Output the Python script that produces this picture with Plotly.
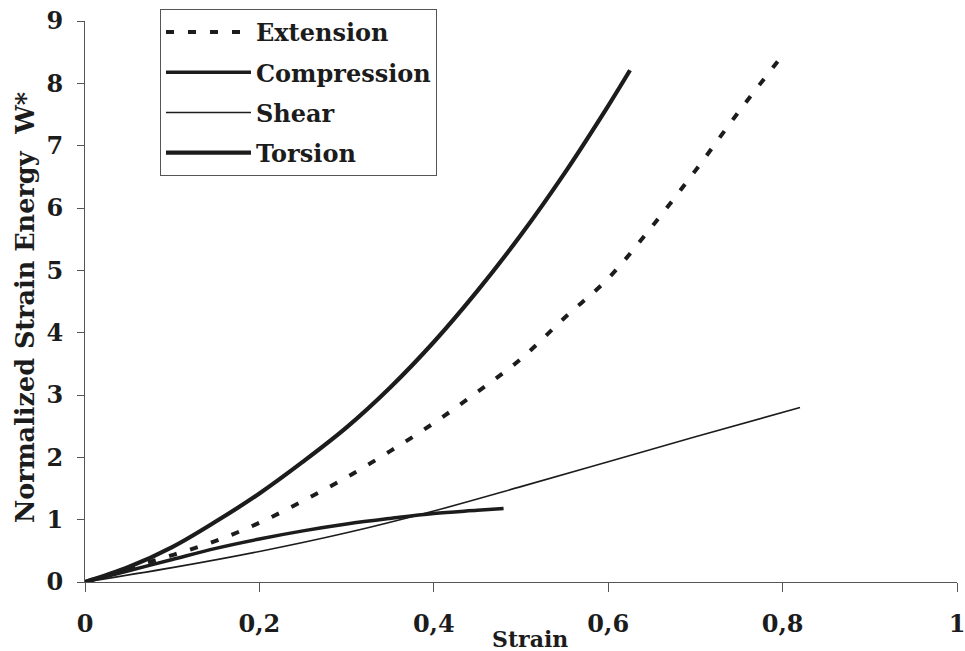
import plotly.graph_objects as go

# Data
ext_x = [0, 0.05, 0.1, 0.15, 0.2, 0.25, 0.3, 0.35, 0.4, 0.45, 0.5, 0.55, 0.6, 0.65, 0.7, 0.75, 0.8]
ext_y = [0, 0.22, 0.43, 0.66, 0.95, 1.30, 1.68, 2.10, 2.55, 3.05, 3.58, 4.24, 4.87, 5.70, 6.60, 7.55, 8.45]

comp_x = [0, 0.05, 0.1, 0.15, 0.2, 0.25, 0.3, 0.35, 0.4, 0.45, 0.48]
comp_y = [0, 0.18, 0.36, 0.54, 0.69, 0.82, 0.93, 1.02, 1.10, 1.15, 1.18]

shear_x = [0, 0.1, 0.2, 0.3, 0.4, 0.5, 0.6, 0.7, 0.82]
shear_y = [0, 0.23, 0.49, 0.79, 1.14, 1.53, 1.93, 2.33, 2.80]

tors_x = [0, 0.05, 0.1, 0.15, 0.2, 0.25, 0.3, 0.35, 0.4, 0.45, 0.5, 0.55, 0.6, 0.625]
tors_y = [0, 0.24, 0.56, 0.97, 1.42, 1.93, 2.48, 3.12, 3.85, 4.67, 5.57, 6.56, 7.64, 8.21]

x_ticks = [0, 0.2, 0.4, 0.6, 0.8, 1]
y_ticks = [0, 1, 2, 3, 4, 5, 6, 7, 8, 9]

FONT = "DejaVu Serif"
INK = "#1c1c1c"

fig = go.Figure()
fig.add_trace(go.Scatter(x=ext_x, y=ext_y, mode="lines", name="Extension", legendgroup="a",
                         line=dict(color=INK, width=4, dash="8px,14px", shape="spline")))
fig.add_trace(go.Scatter(x=comp_x, y=comp_y, mode="lines", name="Compression", legendgroup="b",
                         line=dict(color=INK, width=3.5, shape="spline")))
fig.add_trace(go.Scatter(x=shear_x, y=shear_y, mode="lines", name="Shear", legendgroup="c",
                         line=dict(color=INK, width=1.6, shape="spline")))
fig.add_trace(go.Scatter(x=tors_x, y=tors_y, mode="lines", name="Torsion", legendgroup="d",
                         line=dict(color=INK, width=4.2, shape="spline")))

axis_common = dict(
    showgrid=False, zeroline=False, showline=True, linecolor="#555555", linewidth=1,
    ticks="outside", tickcolor="#555555", tickwidth=1, automargin=False,
    ticklabeloverflow="allow",
    tickfont=dict(family=FONT, size=24, color=INK, weight="bold"),
)

# Paper area: top margin 9 px (legend top), bottom 69 px -> height 573; plot top at 21 px
fig.update_xaxes(range=[0, 1], tickvals=x_ticks, ticklen=9, ticklabelstandoff=11, **axis_common)
fig.update_yaxes(range=[0, 9], tickvals=y_ticks, ticklen=7, ticklabelstandoff=9,
                 domain=[0, 561 / 573], **axis_common)

fig.add_annotation(text="<b>Strain</b>", x=0.51, xref="x", y=-0.0995, yref="paper",
                   showarrow=False, font=dict(family=FONT, size=22, color=INK),
                   xanchor="center", yanchor="middle")
fig.add_annotation(text="<b>Normalized Strain Energy  W*</b>", x=-0.0688, xref="paper",
                   y=0.478, yref="paper", textangle=-90, showarrow=False,
                   font=dict(family=FONT, size=25.5, color=INK),
                   xanchor="center", yanchor="middle")

fig.update_layout(
    width=965, height=651,
    margin=dict(l=85, r=8, t=9, b=69, autoexpand=False),
    paper_bgcolor="white", plot_bgcolor="white",
    separators=",.",
    font=dict(family=FONT, size=24, color=INK),
    showlegend=True,
    legend=dict(
        x=0.086, y=1.0, xanchor="left", yanchor="top",
        bgcolor="white", bordercolor="#555555", borderwidth=1,
        font=dict(family=FONT, size=24, color=INK, weight="bold"),
        itemwidth=85, tracegroupgap=6, traceorder="grouped",
    ),
)

fig.write_html("out.html", config={"displayModeBar": False},
               post_script="document.body.style.margin='0';")
